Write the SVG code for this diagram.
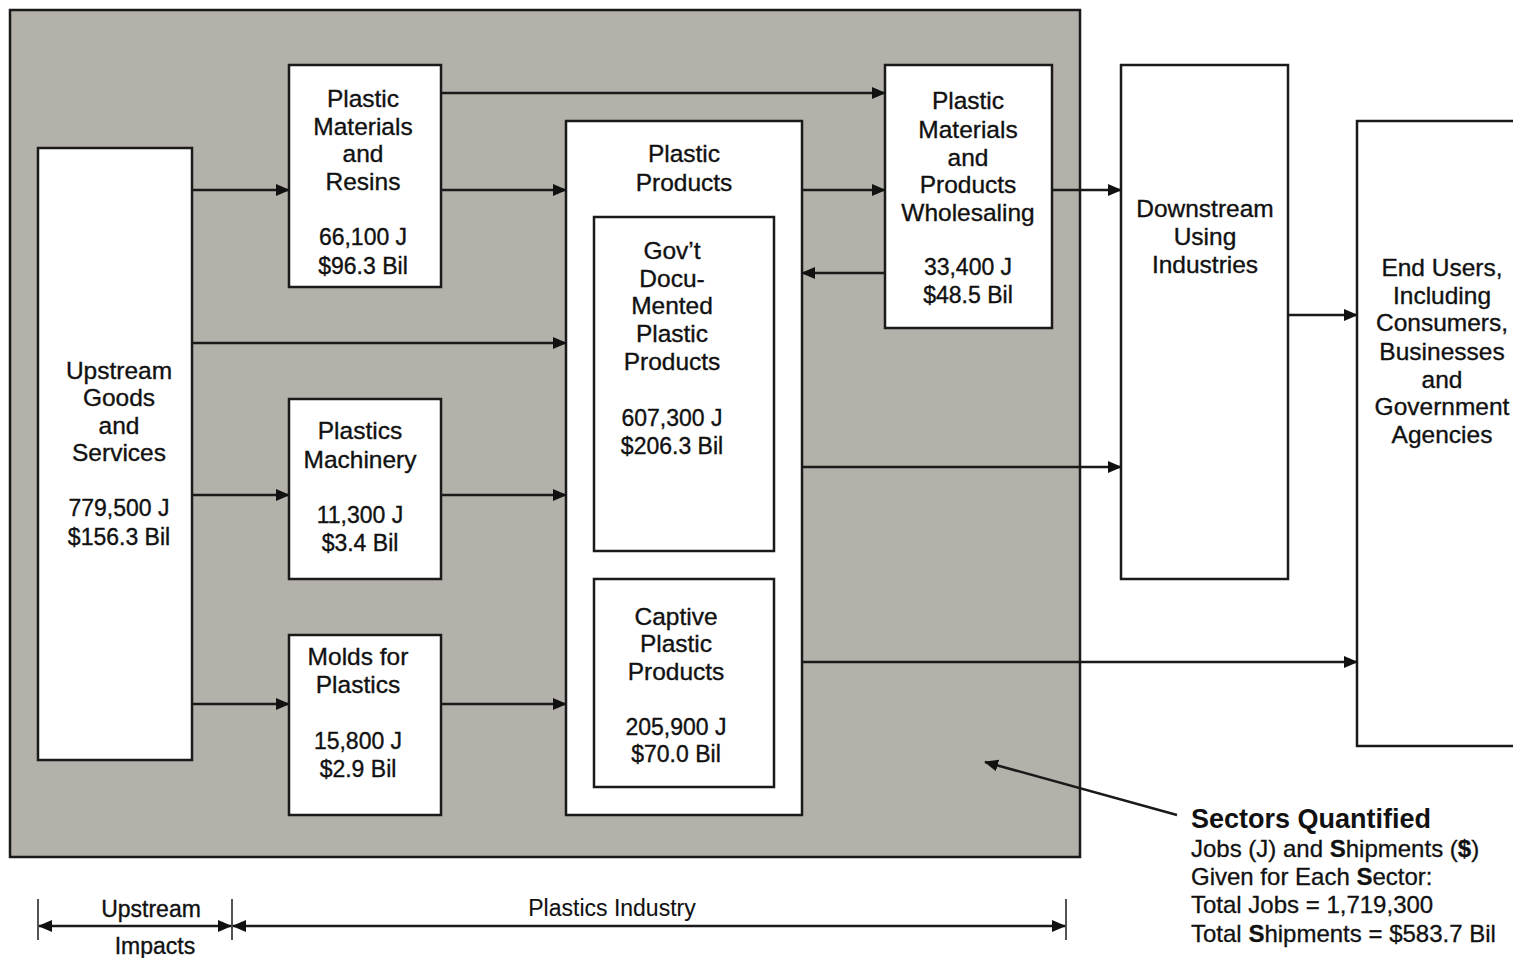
<svg xmlns="http://www.w3.org/2000/svg" width="1513" height="958" viewBox="0 0 1513 958">
<style>
.box{fill:#fff;stroke:#1a1a1a;stroke-width:2.5}
.t{font-family:"Liberation Sans",Arial,sans-serif;font-size:24.5px;fill:#111;stroke:#111;stroke-width:0.35;text-anchor:middle}
.n{font-size:23px}
.s{font-family:"Liberation Sans",Arial,sans-serif;font-size:24px;fill:#111;stroke:#111;stroke-width:0.3}
.c line{stroke:#1a1a1a;stroke-width:2.5}
</style>
<defs>
<marker id="ah" markerUnits="userSpaceOnUse" markerWidth="14" markerHeight="12" refX="13" refY="6" orient="auto-start-reverse">
<path d="M0,0 L14,6 L0,12 Z" fill="#111"/>
</marker>
</defs>
<rect width="1513" height="958" fill="#fff"/>
<g id="bg"><rect x="10" y="10" width="1070" height="847" fill="#b4b1aa" stroke="#1a1a1a" stroke-width="2.5"/></g>

<g id="upstream"><rect class="box" x="38" y="148" width="154" height="612"/>
<text class="t" x="119" y="379">Upstream</text><text class="t" x="119" y="406">Goods</text><text class="t" x="119" y="434">and</text><text class="t" x="119" y="461">Services</text>
<text class="t n" x="119" y="516">779,500 J</text><text class="t n" x="119" y="545">$156.3 Bil</text></g>

<g id="resins"><rect class="box" x="289" y="65" width="152" height="222"/>
<text class="t" x="363" y="107">Plastic</text><text class="t" x="363" y="135">Materials</text><text class="t" x="363" y="162">and</text><text class="t" x="363" y="190">Resins</text>
<text class="t n" x="363" y="245">66,100 J</text><text class="t n" x="363" y="274">$96.3 Bil</text></g>

<g id="machinery"><rect class="box" x="289" y="399" width="152" height="180"/>
<text class="t" x="360" y="439">Plastics</text><text class="t" x="360" y="468">Machinery</text>
<text class="t n" x="360" y="523">11,300 J</text><text class="t n" x="360" y="551">$3.4 Bil</text></g>

<g id="molds"><rect class="box" x="289" y="635" width="152" height="180"/>
<text class="t" x="358" y="665">Molds for</text><text class="t" x="358" y="693">Plastics</text>
<text class="t n" x="358" y="749">15,800 J</text><text class="t n" x="358" y="777">$2.9 Bil</text></g>

<g id="products"><rect class="box" x="566" y="121" width="236" height="694"/>
<text class="t" x="684" y="162">Plastic</text><text class="t" x="684" y="191">Products</text></g>

<g id="govt"><rect class="box" x="594" y="217" width="180" height="334"/>
<text class="t" x="672" y="259">Gov’t</text><text class="t" x="672" y="287">Docu-</text><text class="t" x="672" y="314">Mented</text><text class="t" x="672" y="342">Plastic</text><text class="t" x="672" y="370">Products</text>
<text class="t n" x="672" y="426">607,300 J</text><text class="t n" x="672" y="454">$206.3 Bil</text></g>

<g id="captive"><rect class="box" x="594" y="579" width="180" height="208"/>
<text class="t" x="676" y="625">Captive</text><text class="t" x="676" y="652">Plastic</text><text class="t" x="676" y="680">Products</text>
<text class="t n" x="676" y="735">205,900 J</text><text class="t n" x="676" y="762">$70.0 Bil</text></g>

<g id="wholesaling"><rect class="box" x="885" y="65" width="167" height="263"/>
<text class="t" x="968" y="109">Plastic</text><text class="t" x="968" y="138">Materials</text><text class="t" x="968" y="166">and</text><text class="t" x="968" y="193">Products</text><text class="t" x="968" y="221">Wholesaling</text>
<text class="t n" x="968" y="275">33,400 J</text><text class="t n" x="968" y="303">$48.5 Bil</text></g>

<g id="downstream"><rect class="box" x="1121" y="65" width="167" height="514"/>
<text class="t" x="1205" y="217">Downstream</text><text class="t" x="1205" y="245">Using</text><text class="t" x="1205" y="273">Industries</text></g>

<g id="endusers"><rect class="box" x="1357" y="121" width="170" height="625"/>
<text class="t" x="1442" y="276">End Users,</text><text class="t" x="1442" y="304">Including</text><text class="t" x="1442" y="331">Consumers,</text><text class="t" x="1442" y="360">Businesses</text><text class="t" x="1442" y="388">and</text><text class="t" x="1442" y="415">Government</text><text class="t" x="1442" y="443">Agencies</text></g>

<g id="connectors" class="c">
<line x1="441" y1="93" x2="885" y2="93" marker-end="url(#ah)"/>
<line x1="192" y1="190" x2="289" y2="190" marker-end="url(#ah)"/>
<line x1="441" y1="190" x2="566" y2="190" marker-end="url(#ah)"/>
<line x1="802" y1="190" x2="885" y2="190" marker-end="url(#ah)"/>
<line x1="1052" y1="190" x2="1121" y2="190" marker-end="url(#ah)"/>
<line x1="885" y1="273" x2="802" y2="273" marker-end="url(#ah)"/>
<line x1="192" y1="343" x2="566" y2="343" marker-end="url(#ah)"/>
<line x1="192" y1="495" x2="289" y2="495" marker-end="url(#ah)"/>
<line x1="441" y1="495" x2="566" y2="495" marker-end="url(#ah)"/>
<line x1="802" y1="467" x2="1121" y2="467" marker-end="url(#ah)"/>
<line x1="1288" y1="315" x2="1357" y2="315" marker-end="url(#ah)"/>
<line x1="192" y1="704" x2="289" y2="704" marker-end="url(#ah)"/>
<line x1="441" y1="704" x2="566" y2="704" marker-end="url(#ah)"/>
<line x1="802" y1="662" x2="1357" y2="662" marker-end="url(#ah)"/>
<line x1="1177" y1="815" x2="985" y2="762" marker-end="url(#ah)"/>
</g>

<g id="scale">
<g class="c">
<line x1="38" y1="899" x2="38" y2="940" style="stroke-width:1.5"/>
<line x1="232" y1="899" x2="232" y2="940" style="stroke-width:1.5"/>
<line x1="1066" y1="899" x2="1066" y2="940" style="stroke-width:1.5"/>
<line x1="39" y1="926" x2="231" y2="926" marker-start="url(#ah)" marker-end="url(#ah)"/>
<line x1="233" y1="926" x2="1065" y2="926" marker-start="url(#ah)" marker-end="url(#ah)"/>
</g>
<text class="t n" x="151" y="917">Upstream</text>
<text class="t n" x="155" y="954">Impacts</text>
<text class="t n" x="612" y="916" style="stroke-width:0.1">Plastics Industry</text>
</g>

<g id="legend">
<text class="s" x="1191" y="828" style="font-size:27px;font-weight:bold;stroke-width:0">Sectors Quantified</text>
<text class="s" x="1191" y="857">Jobs (J) and <tspan font-weight="bold">S</tspan>hipments (<tspan font-weight="bold">$</tspan>)</text>
<text class="s" x="1191" y="885">Given for Each <tspan font-weight="bold">S</tspan>ector:</text>
<text class="s" x="1191" y="913">Total Jobs = 1,719,300</text>
<text class="s" x="1191" y="942">Total <tspan font-weight="bold">S</tspan>hipments = $583.7 Bil</text>
</g>
</svg>
